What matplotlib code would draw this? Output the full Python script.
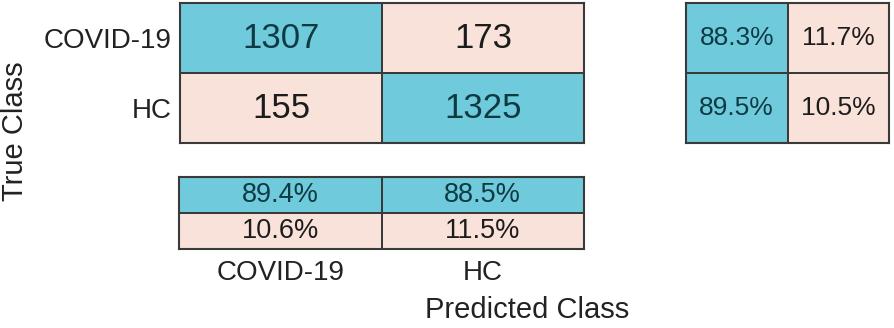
import numpy as np
import matplotlib.pyplot as plt
from matplotlib.colors import ListedColormap

plt.rcParams['font.family'] = ['Liberation Sans', 'DejaVu Sans']

# datos
clases = ["COVID-19", "HC"]
conteos = [[1307, 173],
           [155, 1325]]
# porcentajes por fila (resumen derecho)
pct_fila = [[88.3, 11.7],
            [89.5, 10.5]]
# porcentajes por columna (resumen inferior)
pct_col = [[89.4, 88.5],
           [10.6, 11.5]]

AZUL = "#6fcbdc"
ROSA = "#f9e2da"
TXT_AZUL = "#0e3a44"
TXT_ROSA = "#1c1c1c"
BORDE = "#3a3a3a"

W, H = 894, 328
fig = plt.figure(figsize=(W / 100, H / 100), dpi=100)


def caja(x0, y0, x1, y1):
    # coordenadas en pixeles con origen arriba a la izquierda
    return fig.add_axes([x0 / W, 1 - y1 / H, (x1 - x0) / W, (y1 - y0) / H])


def dibujar(ax, colores, textos, tamano):
    colores = np.array(colores)
    ax.pcolormesh(colores, cmap=ListedColormap([ROSA, AZUL]), vmin=0, vmax=1,
                  edgecolors=BORDE, linewidth=1.2)
    ax.set_xlim(0, colores.shape[1])
    ax.set_ylim(colores.shape[0], 0)
    for i in range(colores.shape[0]):
        for j in range(colores.shape[1]):
            c = TXT_AZUL if colores[i, j] else TXT_ROSA
            ax.text(j + 0.5, i + 0.5, textos[i][j], ha="center", va="center",
                    fontsize=tamano, color=c)
    for s in ax.spines.values():
        s.set_color(BORDE)
        s.set_linewidth(1.5)
    ax.tick_params(length=0)


# matriz principal
ax = caja(180, 3, 584, 143)
diag = [[1 if i == j else 0 for j in range(2)] for i in range(2)]
dibujar(ax, diag, [[str(v) for v in fila] for fila in conteos], 25)
ax.set_xticks([])
ax.set_yticks([0.5, 1.5])
ax.set_yticklabels(clases, fontsize=20, color="#222222")
ax.tick_params(axis="y", pad=6)

# resumen derecho
ax_d = caja(686, 3, 889, 143)
dibujar(ax_d, [[1, 0], [1, 0]],
        [[f"{v:.1f}%" for v in fila] for fila in pct_fila], 19)
ax_d.set_xticks([])
ax_d.set_yticks([])

# resumen inferior
ax_b = caja(179, 177, 584, 249)
dibujar(ax_b, [[1, 1], [0, 0]],
        [[f"{v:.1f}%" for v in fila] for fila in pct_col], 19.5)
ax_b.set_yticks([])
ax_b.set_xticks([0.5, 1.5])
ax_b.set_xticklabels(clases, fontsize=20, color="#222222")
ax_b.tick_params(axis="x", pad=8)

fig.text(15 / W, 1 - 131 / H, "True Class", rotation=90, ha="center",
         va="center", fontsize=21, color="#222222")
fig.text(527 / W, 1 - 310 / H, "Predicted Class", ha="center", va="center",
         fontsize=21, color="#222222")

fig.savefig("out.png", dpi=100, facecolor="white")
